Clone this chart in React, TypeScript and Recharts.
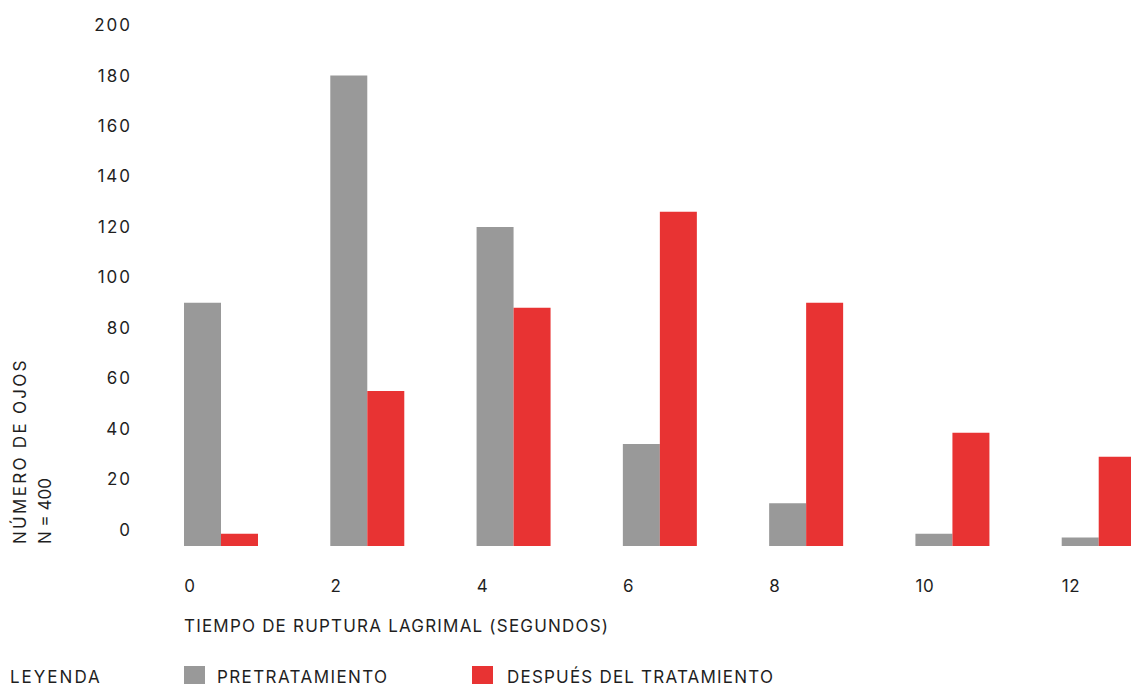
import React from 'react';
import { BarChart, Bar, XAxis, YAxis } from 'recharts';

// Tiempo de ruptura lagrimal (segundos)
const categories = ['0', '2', '4', '6', '8', '10', '12'];
// Número de ojos
const preValues = [90, 180, 120, 34, 10.5, -1.5, -3];
const postValues = [-1.5, 55, 88, 126, 90, 38.5, 29];
const yTicks = [0, 20, 40, 60, 80, 100, 120, 140, 160, 180, 200];

// bars in the reference start a little below the 0 tick
const BAR_BASE = -6.4;

const GRAY = '#999999';
const RED = '#E83333';
const TEXT = '#1f1f1f';
const FONT = 'Inter, "Noto Sans", sans-serif';
const BAR = 37;

const data = categories.map((cat, i) => ({
  cat,
  pre: preValues[i],
  post: postValues[i],
}));

const XTick = (props: any) => {
  const { x, y, payload } = props;
  return (
    <text x={x - BAR} y={y} dy="0.71em" textAnchor="start" fill={TEXT} fontSize={17} fontFamily={FONT} letterSpacing={0.6}>
      {payload.value}
    </text>
  );
};

const YTick = (props: any) => {
  const { x, y, payload } = props;
  return (
    <text x={x + 2} y={y} dy="0.355em" textAnchor="end" fill={TEXT} fontSize={17} fontFamily={FONT} letterSpacing={2}>
      {payload.value}
    </text>
  );
};

const YLabel = () => (
  <g fill={TEXT} fontSize={17} fontFamily={FONT}>
    <text transform="translate(26,544) rotate(-90)" textAnchor="start" letterSpacing={2.3}>
      NÚMERO DE OJOS
    </text>
    <text transform="translate(51,544) rotate(-90)" textAnchor="start">
      N = 400
    </text>
  </g>
);

const textStyle: React.CSSProperties = {
  position: 'absolute',
  fontFamily: FONT,
  fontSize: 17,
  lineHeight: '21px',
  color: TEXT,
  whiteSpace: 'nowrap',
};

const swatch = (color: string, left: number): React.CSSProperties => ({
  position: 'absolute',
  left,
  top: 666,
  width: 21,
  height: 21,
  background: color,
});

export default function App() {
  return (
    <div
      style={{
        position: 'absolute',
        left: 0,
        top: 0,
        width: 1131,
        height: 684,
        overflow: 'hidden',
        background: '#fff',
      }}
    >
      <BarChart
        width={1180}
        height={684}
        data={data}
        margin={{ top: 25, right: 8, left: 0, bottom: 0 }}
        barSize={BAR}
        barGap={0}
      >
        <XAxis
          dataKey="cat"
          height={138}
          axisLine={false}
          tickLine={false}
          tickSize={0}
          tickMargin={34}
          interval={0}
          tick={<XTick />}
        />
        <YAxis
          type="number"
          width={148}
          domain={[BAR_BASE, 200]}
          ticks={yTicks}
          allowDataOverflow
          axisLine={false}
          tickLine={false}
          tickSize={0}
          tickMargin={18}
          tick={<YTick />}
          label={{ content: () => <YLabel /> }}
        />
        <Bar dataKey={(d: any) => [BAR_BASE, d.pre]} fill={GRAY} isAnimationActive={false} />
        <Bar dataKey={(d: any) => [BAR_BASE, d.post]} fill={RED} isAnimationActive={false} />
      </BarChart>

      <div style={{ ...textStyle, left: 184, top: 616, letterSpacing: 1.2 }}>
        TIEMPO DE RUPTURA LAGRIMAL (SEGUNDOS)
      </div>

      <div style={{ ...textStyle, left: 10, top: 667, letterSpacing: 2 }}>LEYENDA</div>
      <div style={swatch(GRAY, 184)} />
      <div style={{ ...textStyle, left: 217, top: 667, letterSpacing: 1.4 }}>PRETRATAMIENTO</div>
      <div style={swatch(RED, 472)} />
      <div style={{ ...textStyle, left: 507, top: 667, letterSpacing: 1.2 }}>DESPUÉS DEL TRATAMIENTO</div>
    </div>
  );
}
